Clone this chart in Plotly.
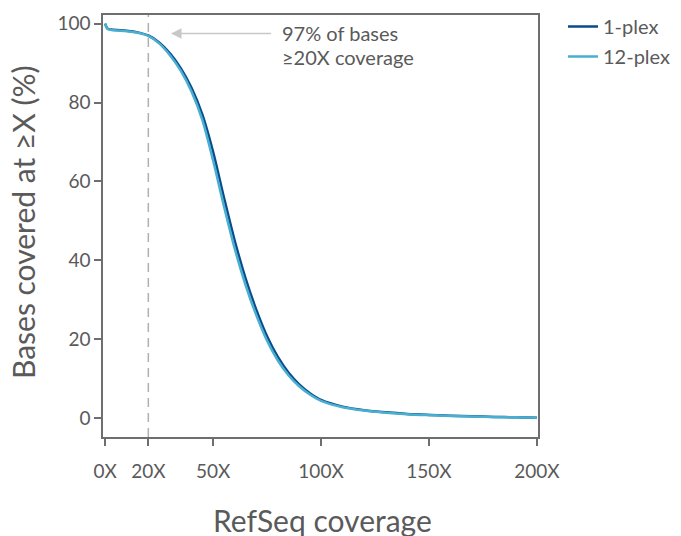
import plotly.graph_objects as go

coverage_x = [0, 1, 3, 10, 15, 20, 25, 30, 35, 40, 45, 50, 55, 60, 65, 70, 75, 80, 85, 90, 95,
              100, 110, 120, 130, 140, 150, 160, 170, 180, 190, 200]
plex1 = [100, 98.8, 98.5, 98.2, 97.8, 97.0, 95.25, 92.5, 88.75, 83.75, 77.0, 67.5, 56.0, 45.0,
         35.5, 27.5, 20.75, 15.5, 11.5, 8.5, 6.25, 4.6, 2.9, 2.0, 1.45, 1.05, 0.8, 0.6, 0.45,
         0.3, 0.2, 0.1]
plex12 = [100, 98.7, 98.4, 98.1, 97.7, 96.9, 95.0, 92.0, 88.1, 82.8, 75.6, 65.3, 53.8, 43.0,
          33.8, 26.1, 19.6, 14.6, 10.8, 8.0, 5.9, 4.35, 2.75, 1.9, 1.38, 1.0, 0.75, 0.55, 0.4,
          0.28, 0.18, 0.1]
x_tickvals = [0, 20, 50, 100, 150, 200]
x_ticktext = ["0X", "20X", "50X", "100X", "150X", "200X"]
y_tickvals = [0, 20, 40, 60, 80, 100]

FONT = "Lato"
TXT = "#5a5a5a"
AX = "#6e6e6e"

# page layout (browser body adds an 8px offset)
W, H = 681, 536
OFF = 8
PL, PT, PR, PB = 103, 15, 538, 437          # plot box in page pixels
ml, mt = PL - OFF, PT - OFF
pw, ph = PR - PL, PB - PT
mr, mb = W - ml - pw, H - mt - ph


def px(x):
    return (x - PL) / pw


def py(y):
    return (PB - y) / ph


fig = go.Figure()
fig.add_trace(go.Scatter(x=coverage_x, y=plex1, mode="lines", name="1-plex",
                         line=dict(color="#0a4b8c", width=2.5, shape="spline", smoothing=0.8),
                         legendgroup="a"))
fig.add_trace(go.Scatter(x=coverage_x, y=plex12, mode="lines", name="12-plex",
                         line=dict(color="#48afd0", width=2.5, shape="spline", smoothing=0.8),
                         legendgroup="b"))

fig.add_shape(type="line", x0=20, x1=20, y0=0, y1=1, xref="x", yref="paper",
              line=dict(color="#b0b0b0", width=1.5, dash="9px,6px"), layer="below")

fig.add_annotation(x=30.5, y=97.5, ax=77.5, ay=97.5, xref="x", yref="y", axref="x", ayref="y",
                   text="", showarrow=True, arrowhead=2, arrowsize=1.4, arrowwidth=1.5,
                   arrowcolor="#c8c8c8")
fig.add_annotation(x=px(280), y=py(33), xref="paper", yref="paper", xanchor="left",
                   yanchor="middle", text="97% of bases", showarrow=False,
                   font=dict(family=FONT, size=20, color=TXT))
fig.add_annotation(x=px(280), y=py(57), xref="paper", yref="paper", xanchor="left",
                   yanchor="middle", text="≥20X coverage", showarrow=False,
                   font=dict(family=FONT, size=20, color=TXT))

fig.add_annotation(x=px(23), y=py(222), xref="paper", yref="paper",
                   text="Bases covered at ≥X (%)", showarrow=False, textangle=-90,
                   xanchor="center", yanchor="middle",
                   font=dict(family=FONT, size=30, color=TXT))
fig.add_annotation(x=px(322), y=py(520), xref="paper", yref="paper",
                   text="RefSeq coverage", showarrow=False, xanchor="center", yanchor="middle",
                   font=dict(family=FONT, size=30, color=TXT))

fig.update_layout(
    width=W, height=H,
    margin=dict(l=ml, r=mr, t=mt, b=mb, autoexpand=False),
    plot_bgcolor="white", paper_bgcolor="white",
    font=dict(family=FONT, size=19, color=TXT),
    showlegend=True,
    legend=dict(x=px(563), y=py(7), xanchor="left", yanchor="top",
                font=dict(size=20, color=TXT), tracegroupgap=1, bgcolor="rgba(0,0,0,0)"),
    xaxis=dict(range=[-1, 200.5], tickvals=x_tickvals, ticktext=x_ticktext, showgrid=False,
               zeroline=False, showline=True, linecolor=AX, linewidth=1.5, mirror=True,
               ticks="outside", ticklen=7, tickwidth=1.5, tickcolor=AX,
               tickfont=dict(size=19, color=TXT), ticklabelstandoff=9),
    yaxis=dict(range=[-4.8, 102.2], tickvals=y_tickvals, showgrid=False, zeroline=False,
               showline=True, linecolor=AX, linewidth=1.5, mirror=True,
               ticks="outside", ticklen=7, tickwidth=1.5, tickcolor=AX,
               tickfont=dict(size=19, color=TXT)),
)

fig.write_html("out.html")
